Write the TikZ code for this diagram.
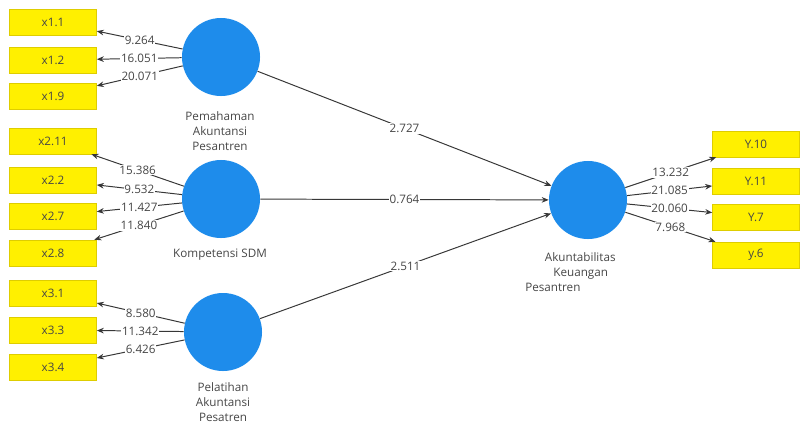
\documentclass[tikz,border=0pt]{standalone}
\usepackage{fontspec}
\setmainfont{Open Sans}
\usetikzlibrary{arrows.meta,positioning}
\definecolor{konstrukt}{RGB}{30,140,235}
\definecolor{indikator}{RGB}{255,240,0}
\definecolor{rahmen}{RGB}{222,205,0}
\definecolor{schrift}{RGB}{70,70,70}
\definecolor{linie}{RGB}{55,55,55}

\begin{document}
\begin{tikzpicture}[x=0.025cm,y=-0.025cm,font=\fontsize{8.3}{10.5}\selectfont]
	\useasboundingbox (0,0) rectangle (809,437);

	% latente Variablen
	\begin{scope}[every node/.style={circle,fill=konstrukt,minimum size=1.95cm,inner sep=0pt}]
		\node (pah) at (221,57) {};
		\node (kom) at (221,199) {};
		\node (pel) at (223,332) {};
		\node (aku) at (588,200) {};
	\end{scope}

	% Indikatoren
	\begin{scope}[every node/.style={rectangle,fill=indikator,draw=rahmen,text=schrift,minimum width=2.175cm,minimum height=0.65cm,inner sep=0pt}]
		\node (x11) at (53,22) {x1.1};
		\node (x12) at (53,60) {x1.2};
		\node (x19) at (53,96) {x1.9};
		\node (x211) at (53,141) {x2.11};
		\node (x22) at (53,180) {x2.2};
		\node (x27) at (53,216) {x2.7};
		\node (x28) at (53,253) {x2.8};
		\node (x31) at (53,293) {x3.1};
		\node (x33) at (53,330) {x3.3};
		\node (x34) at (53,367) {x3.4};
		\node (y10) at (756,144) {Y.10};
		\node (y11) at (756,181) {Y.11};
		\node (y7) at (756,217) {Y.7};
		\node (y6) at (756,255) {y.6};
	\end{scope}

	% Beschriftungen
	\begin{scope}[every node/.style={text=schrift,align=center}]
		\node (pahname) at (220,131) {Pemahaman\\Akuntansi\\Pesantren};
		\node (komname) at (220,255) {Kompetensi SDM};
		\node (pelname) at (223,402) {Pelatihan\\Akuntansi\\Pesatren};
		\node[anchor=west,align=left,inner sep=0pt] (akuname) at (525,272)
			{\hspace*{14pt}Akuntabilitas\\\hspace*{20pt}Keuangan\\Pesantren};
	\end{scope}

	% Pfade
	\begin{scope}[>={Stealth[length=5pt,width=4pt]},every edge/.style={draw=linie,line width=0.7pt,->},
		wert/.style={fill=white,text=schrift,inner sep=0.6pt}]
		\path (pah) edge node[wert] {9.264} (x11);
		\path (pah) edge node[wert] {16.051} (x12);
		\path (pah) edge node[wert] {20.071} (x19);
		\path (kom) edge node[wert] {15.386} (x211);
		\path (kom) edge node[wert] {9.532} (x22);
		\path (kom) edge node[wert] {11.427} (x27);
		\path (kom) edge node[wert] {11.840} (x28);
		\path (pel) edge node[wert] {8.580} (x31);
		\path (pel) edge node[wert] {11.342} (x33);
		\path (pel) edge node[wert] {6.426} (x34);
		\path (aku) edge node[wert] {13.232} (y10);
		\path (aku) edge node[wert] {21.085} (y11);
		\path (aku) edge node[wert] {20.060} (y7);
		\path (aku) edge node[wert] {7.968} (y6);
		\path (pah) edge node[wert] {2.727} (aku);
		\path (kom) edge node[wert] {0.764} (aku);
		\path (pel) edge node[wert] {2.511} (aku);
	\end{scope}
\end{tikzpicture}
\end{document}
